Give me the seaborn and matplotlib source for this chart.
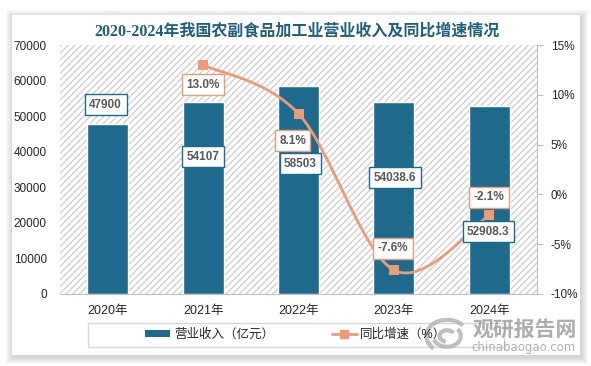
import numpy as np
import pandas as pd
import matplotlib
matplotlib.use('Agg')
import matplotlib.pyplot as plt
import seaborn as sns
from matplotlib.path import Path
from matplotlib.patches import PathPatch, Rectangle, Patch, Arc
from matplotlib.lines import Line2D
from matplotlib.ticker import FuncFormatter

# --- data ---
years = ['2020年', '2021年', '2022年', '2023年', '2024年']
revenue = [47900, 54107, 58503, 54038.6, 52908.3]
growth = [np.nan, 13.0, 8.1, -7.6, -2.1]
revenue_labels = ['47900', '54107', '58503', '54038.6', '52908.3']
growth_labels = ['', '13.0%', '8.1%', '-7.6%', '-2.1%']
left_ticks = [0, 10000, 20000, 30000, 40000, 50000, 60000, 70000]
right_ticks = [-10, -5, 0, 5, 10, 15]

title = '2020-2024年我国农副食品加工业营业收入及同比增速情况'
bar_name = '营业收入（亿元）'
line_name = '同比增速（%）'

# label offsets in pixels (layout only)
rev_offsets = [(-2, 19), (0, -55), (2, -78), (1, -76), (-1, -126)]
gr_offsets = [None, (0, -20), (-6, -27), (-1, 22), (0, 18)]

BAR_C = '#1D6A8D'
LINE_C = '#EC9B79'
TXT_C = '#595959'
GRID_C = '#BFBFBF'

sns.set_style('white')
plt.rcParams['font.family'] = ['Liberation Sans', 'Noto Sans CJK SC']
plt.rcParams['hatch.linewidth'] = 0.8
plt.rcParams['hatch.color'] = '#C8C8C8'

W, H = 591, 366
fig = plt.figure(figsize=(W / 100, H / 100), dpi=100)
fig.patch.set_facecolor('white')

def px_rect(x0, y0, x1, y1, **kw):
    return Rectangle((x0 / W, 1 - y1 / H), (x1 - x0) / W, (y1 - y0) / H,
                     transform=fig.transFigure, **kw)

# card with soft shadow
for k in range(7, 0, -1):
    fig.patches.append(px_rect(12 - k + 1, 15 - k + 2, 580 + k + 1, 355 + k + 2,
                               facecolor='black', edgecolor='none', alpha=0.022, zorder=-3))
fig.patches.append(px_rect(12, 15, 580, 355, facecolor='white', edgecolor='none', zorder=-2))
# legend frame
fig.patches.append(px_rect(88, 323, 504, 347, facecolor='none', edgecolor='#D9D9D9',
                           linewidth=1, zorder=-1))

ax = fig.add_axes([60 / W, 1 - 294 / H, 477 / W, 249 / H])
ax.set_zorder(1)
ax.patch.set_visible(False)
ax.add_patch(Rectangle((0, 0), 1, 1, transform=ax.transAxes, facecolor='white',
                       edgecolor='#C8C8C8', hatch='/////', linewidth=0, zorder=0))

df = pd.DataFrame({'year': years, 'revenue': revenue})
sns.barplot(data=df, x='year', y='revenue', color=BAR_C, width=0.43, saturation=1,
            edgecolor='white', linewidth=1, ax=ax, zorder=2)
ax.set_xlim(-0.5, 4.5)
ax.set_ylim(0, 70000)
ax.set_yticks(left_ticks)
ax.set_xlabel('')
ax.set_ylabel('')
for s in ['left', 'top', 'right']:
    ax.spines[s].set_visible(False)
ax.spines['bottom'].set_color(GRID_C)
ax.tick_params(axis='y', length=0, pad=9.5, labelsize=8.5, labelcolor='#262626')
ax.tick_params(axis='x', length=0, pad=8, labelsize=9, labelcolor='#262626')

ax2 = ax.twinx()
ax2.set_zorder(2)
ax2.patch.set_visible(False)
ax2.set_ylim(-10, 15)
ax2.set_yticks(right_ticks)
ax2.yaxis.set_major_formatter(FuncFormatter(lambda v, p: f'{v:.0f}%'))
for s in ['left', 'top', 'bottom']:
    ax2.spines[s].set_visible(False)
ax2.spines['right'].set_color(GRID_C)
ax2.tick_params(axis='y', length=4, color=GRID_C, pad=6, labelsize=8.5, labelcolor='#262626')

# smoothed growth line (Catmull-Rom style bezier, like Excel smoothing)
gx = [i for i, g in enumerate(growth) if not np.isnan(g)]
gy = [growth[i] for i in gx]
pts = np.column_stack([gx, gy]).astype(float)
verts = [pts[0]]
codes = [Path.MOVETO]
n = len(pts)
for i in range(n - 1):
    p0 = pts[max(i - 1, 0)]
    p1 = pts[i]
    p2 = pts[i + 1]
    p3 = pts[min(i + 2, n - 1)]
    verts += [p1 + (p2 - p0) / 6, p2 - (p3 - p1) / 6, p2]
    codes += [Path.CURVE4] * 3
ax2.add_patch(PathPatch(Path(verts, codes), facecolor='none', edgecolor=LINE_C,
                        linewidth=2, zorder=3))
sns.scatterplot(x=gx, y=gy, marker='s', s=45, color=LINE_C, edgecolor=LINE_C,
                linewidth=0, ax=ax2, zorder=4)
ax2.set_xlim(-0.5, 4.5)
ax2.set_xlabel('')
ax2.set_ylabel('')

# data labels
for i, (v, lab) in enumerate(zip(revenue, revenue_labels)):
    ax2.annotate(lab, xy=(i, v), xycoords=ax.transData, xytext=rev_offsets[i],
                 textcoords='offset pixels', ha='center', va='center',
                 fontsize=8.5, fontweight='bold', color=TXT_C, zorder=6,
                 bbox=dict(boxstyle='square,pad=0.38', facecolor='white',
                           edgecolor=BAR_C, linewidth=1))
for i in gx:
    ax2.annotate(growth_labels[i], xy=(i, growth[i]), xytext=gr_offsets[i],
                 textcoords='offset pixels', ha='center', va='center',
                 fontsize=8.5, fontweight='bold', color=TXT_C, zorder=6,
                 bbox=dict(boxstyle='square,pad=0.38', facecolor='white',
                           edgecolor=LINE_C, linewidth=1))

# title
fig.text(297 / W, 1 - 31 / H, title, ha='center', va='center', fontsize=11.5,
         fontweight='bold', color='#1F5F7E',
         family=['Liberation Serif', 'Noto Sans CJK SC'])

# legend
handles = [Patch(facecolor=BAR_C, edgecolor='none'),
           Line2D([0], [0], color=LINE_C, linewidth=2, marker='s', markersize=6)]
fig.legend(handles, [bar_name, line_name], loc='center',
           bbox_to_anchor=(296 / W, 1 - 335 / H), ncol=2, frameon=False,
           fontsize=9, handlelength=2.0, handleheight=0.5, columnspacing=4.6,
           handletextpad=0.3, labelcolor='#262626')

# watermark
fig.text(525 / W, 1 - 329 / H, '观研报告网', ha='center', va='center', fontsize=15,
         fontweight='bold', color='#9E9E9E', alpha=0.85,
         family=['Noto Sans CJK SC'], zorder=10)
fig.text(523 / W, 1 - 347 / H, 'chinabaogao.com', ha='center', va='center',
         fontsize=8.5, color='#A8A8A8', alpha=0.9, family=['DejaVu Sans'], zorder=10)
lax = fig.add_axes([424 / W, 1 - 354 / H, 46 / W, 36 / H])
lax.set_axis_off()
lax.set_xlim(-1, 1)
lax.set_ylim(-1, 1)
for r, a1, a2 in [(0.9, 40, 230), (0.6, 200, 400), (0.32, 30, 260)]:
    lax.add_patch(Arc((0, 0), 2 * r, 2 * r, theta1=a1, theta2=a2, color='#B0B0B0',
                      linewidth=3, alpha=0.8))

fig.savefig('out.png', dpi=100)
